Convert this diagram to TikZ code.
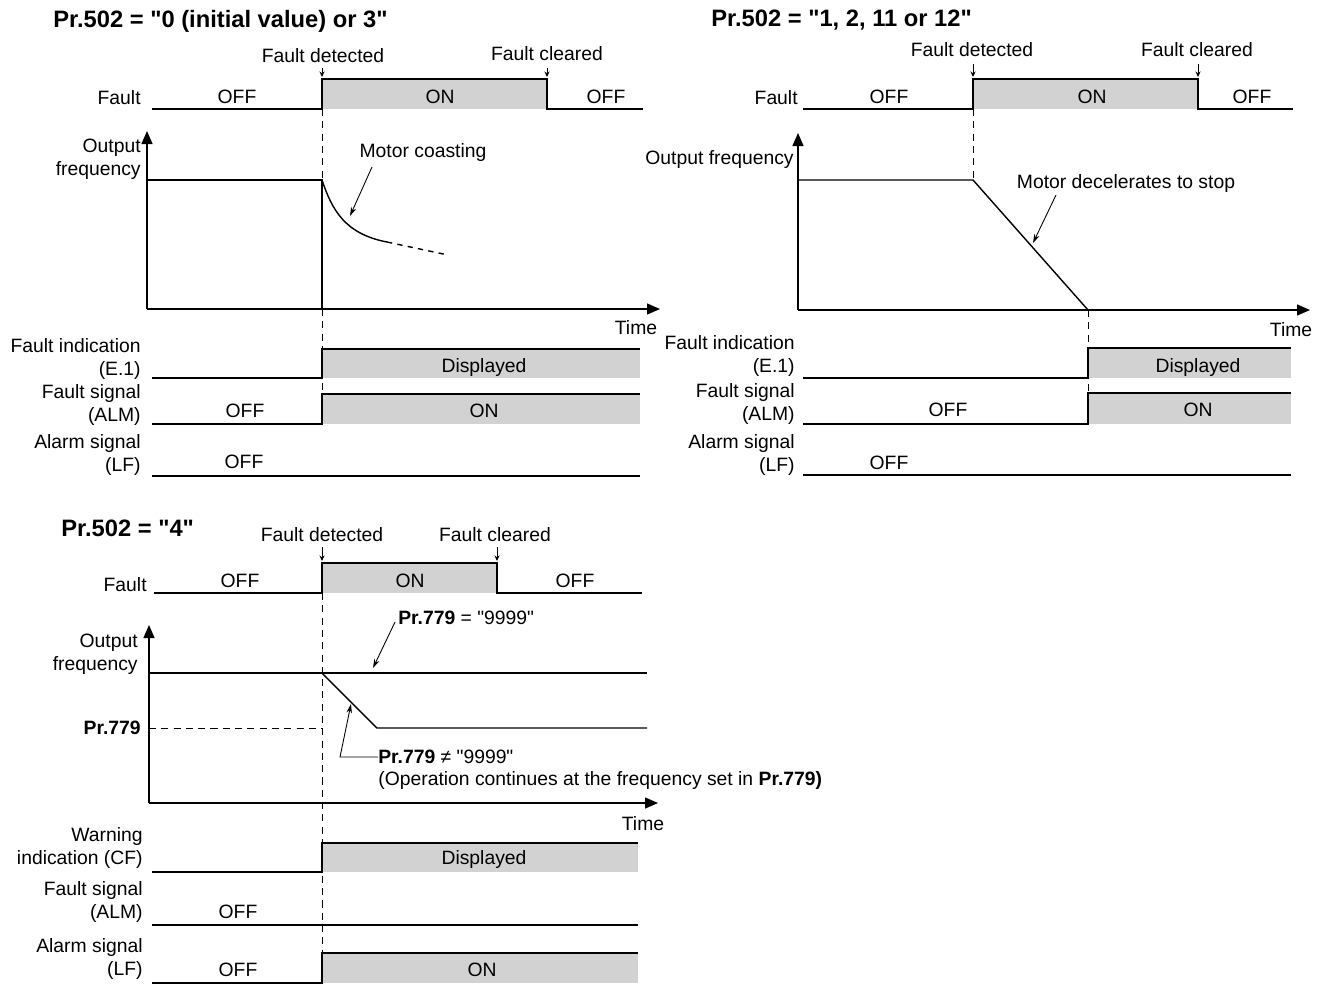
\documentclass[tikz,border=0pt]{standalone}
\usepackage{fontspec}
\setmainfont{Liberation Sans}[Ligatures=TeXOff]
\usetikzlibrary{arrows.meta}
\definecolor{onfill}{RGB}{210,210,210}

\begin{document}
\begin{tikzpicture}[x=0.02cm, y=-0.02cm,
txt/.style={font=\fontsize{11}{13}\selectfont, inner sep=0pt},
lbl/.style={txt, align=right, anchor=east},
head/.style={font=\fontsize{13.5}{16}\selectfont\bfseries, inner sep=0pt, anchor=west},
sig/.style={line width=0.8pt},
vdash/.style={line width=0.5pt, dash pattern=on 4pt off 3pt},
axis/.style={line width=0.8pt, -{Triangle[length=2.6mm,width=2.2mm]}},
evt/.style={line width=0.5pt, -{Stealth[length=1.1mm,width=1mm]}},
lead/.style={line width=0.5pt, -{Stealth[length=1.8mm,width=1.1mm]}}
]
\useasboundingbox (0,0) rectangle (1324,985);

% Pr.502 = 0 or 3
\node[head] (t1) at (53,21) {Pr.502 = "0 (initial value) or 3"};
\fill[onfill] (322,79) rectangle (547,109);
\draw[sig] (152,109) -- (322,109) -- (322,79) -- (547,79) -- (547,109) -- (643,109);
\node[lbl] (flt1) at (141,98) {Fault};
\node[txt] (off1a) at (237,97) {OFF};
\node[txt] (on1a) at (440,97) {ON};
\node[txt] (off1b) at (606,97) {OFF};
\node[txt] (det1) at (323,56) {Fault detected};
\node[txt] (clr1) at (547,54) {Fault cleared};
\draw[evt] (322,68) -- (322,77);
\draw[evt] (547,68) -- (547,77);
\draw[vdash] (322,109) -- (322,180);
\draw[vdash] (322,309) -- (322,394);
\draw[axis] (147,309) -- (147,131);
\draw[axis] (147,309) -- (660,309);
\node[lbl] (out1) at (141,159) {Output\\frequency};
\node[txt] (time1) at (636,328) {Time};
\draw[sig] (147,180) -- (322,180) -- (322,309);
\draw[sig] (322,180) .. controls (332,210) and (345,234) .. (387,242);
\draw[sig, dashed] (387,242) -- (448,255);
\node[txt] (mc) at (423,152) {Motor coasting};
\draw[lead] (372,167) -- (350,216);
\fill[onfill] (322,349) rectangle (640,378);
\draw[sig] (152,378) -- (322,378) -- (322,349) -- (640,349);
\node[lbl] (fi1) at (141,359) {Fault indication\\(E.1)};
\node[txt] (dsp1) at (484,367) {Displayed};
\fill[onfill] (322,394) rectangle (640,424);
\draw[sig] (152,424) -- (322,424) -- (322,394) -- (640,394);
\node[lbl] (fs1) at (141,405) {Fault signal\\(ALM)};
\node[txt] (off1c) at (245,411) {OFF};
\node[txt] (on1b) at (484,411) {ON};
\draw[sig] (152,476) -- (640,476);
\node[lbl] (as1) at (141,455) {Alarm signal\\(LF)};
\node[txt] (off1d) at (244,462) {OFF};

% Pr.502 = 1, 2, 11 or 12
\node[head] (t2) at (711,20) {Pr.502 = "1, 2, 11 or 12"};
\fill[onfill] (973,79) rectangle (1198,109);
\draw[sig] (803,109) -- (973,109) -- (973,79) -- (1198,79) -- (1198,109) -- (1293,109);
\node[lbl] (flt2) at (798,98) {Fault};
\node[txt] (off2a) at (889,97) {OFF};
\node[txt] (on2a) at (1092,97) {ON};
\node[txt] (off2b) at (1252,97) {OFF};
\node[txt] (det2) at (972,50) {Fault detected};
\node[txt] (clr2) at (1197,50) {Fault cleared};
\draw[evt] (973,64) -- (973,77);
\draw[evt] (1198,64) -- (1198,77);
\draw[vdash] (973,109) -- (973,180);
\draw[vdash] (1088,310) -- (1088,393);
\draw[axis] (798,310) -- (798,133);
\draw[axis] (798,310) -- (1310,310);
\node[lbl] (out2) at (794,160) {Output frequency};
\node[txt] (time2) at (1291,330) {Time};
\draw[sig] (798,180) -- (973,180) -- (1088,310);
\node[txt] (dec) at (1126,183) {Motor decelerates to stop};
\draw[lead] (1056,195) -- (1033,243);
\fill[onfill] (1088,348) rectangle (1291,378);
\draw[sig] (803,378) -- (1088,378) -- (1088,348) -- (1291,348);
\node[lbl] (fi2) at (795,356) {Fault indication\\(E.1)};
\node[txt] (dsp2) at (1198,367) {Displayed};
\fill[onfill] (1088,393) rectangle (1291,424);
\draw[sig] (803,424) -- (1088,424) -- (1088,393) -- (1291,393);
\node[lbl] (fs2) at (795,404) {Fault signal\\(ALM)};
\node[txt] (off2c) at (948,410) {OFF};
\node[txt] (on2b) at (1198,410) {ON};
\draw[sig] (803,475) -- (1291,475);
\node[lbl] (as2) at (795,455) {Alarm signal\\(LF)};
\node[txt] (off2d) at (889,463) {OFF};

% Pr.502 = 4
\node[head] (t3) at (61,528) {Pr.502 = "4"};
\fill[onfill] (322,563) rectangle (497,593);
\draw[sig] (154,593) -- (322,593) -- (322,563) -- (497,563) -- (497,593) -- (642,593);
\node[lbl] (flt3) at (147,585) {Fault};
\node[txt] (off3a) at (240,581) {OFF};
\node[txt] (on3a) at (410,581) {ON};
\node[txt] (off3b) at (575,581) {OFF};
\node[txt] (det3) at (322,535) {Fault detected};
\node[txt] (clr3) at (495,535) {Fault cleared};
\draw[evt] (322,547) -- (322,561);
\draw[evt] (497,547) -- (497,561);
\draw[vdash] (322,593) -- (322,953);
\draw[axis] (149,803) -- (149,625);
\draw[axis] (149,803) -- (658,803);
\node[lbl] (out3) at (138,654) {Output\\frequency};
\node[txt] (time3) at (643,824) {Time};
\draw[sig] (149,673) -- (647,673);
\draw[sig] (322,673) -- (377,728) -- (647,728);
\draw[vdash] (149,728) -- (322,728);
\node[lbl, font=\fontsize{11}{13}\selectfont\bfseries] (p779) at (141,728) {Pr.779};
\node[txt, anchor=west] (eq) at (398,618) {\textbf{Pr.779} = "9999"};
\draw[lead] (395,622) -- (373,668);
\node[txt, anchor=west] (ne) at (378,757) {\textbf{Pr.779} ≠ "9999"};
\node[txt, anchor=west] (cont) at (378,780) {(Operation continues at the frequency set in \textbf{Pr.779)}};
\draw[lead] (ne.west) -- (340,757) -- (351,704);
\fill[onfill] (322,843) rectangle (638,872);
\draw[sig] (152,872) -- (322,872) -- (322,843) -- (638,843);
\node[lbl] (wi3) at (143,848) {Warning \\indication (CF)};
\node[txt] (dsp3) at (484,859) {Displayed};
\draw[sig] (152,925) -- (638,925);
\node[lbl] (fs3) at (143,902) {Fault signal\\(ALM)};
\node[txt] (off3c) at (238,912) {OFF};
\fill[onfill] (322,953) rectangle (638,983);
\draw[sig] (152,983) -- (322,983) -- (322,953) -- (638,953);
\node[lbl] (as3) at (143,959) {Alarm signal\\(LF)};
\node[txt] (off3d) at (238,970) {OFF};
\node[txt] (on3b) at (482,970) {ON};
\end{tikzpicture}
\end{document}
